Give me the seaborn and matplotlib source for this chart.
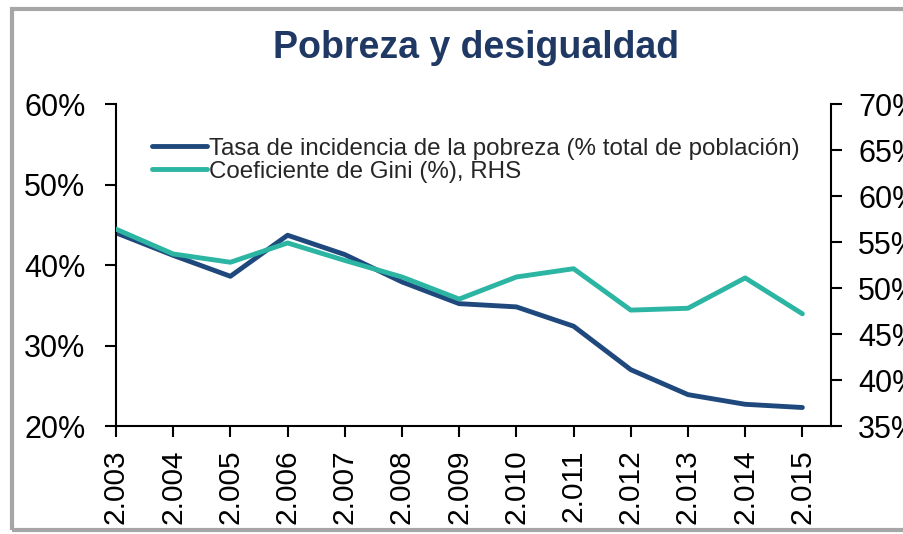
import pandas as pd
import seaborn as sb
import matplotlib.pyplot as plt
from matplotlib.patches import Rectangle
from matplotlib.ticker import FuncFormatter

years = ['2.003', '2.004', '2.005', '2.006', '2.007', '2.008', '2.009',
         '2.010', '2.011', '2.012', '2.013', '2.014', '2.015']
pobreza = [44.0, 41.2, 38.6, 43.7, 41.3, 37.9, 35.2, 34.8, 32.4, 27.0, 23.9, 22.7, 22.3]
gini = [56.4, 53.7, 52.8, 54.9, 53.0, 51.2, 48.8, 51.2, 52.1, 47.6, 47.8, 51.1, 47.2]

label_pob = 'Tasa de incidencia de la pobreza (% total de población)'
label_gini = 'Coeficiente de Gini (%), RHS'
col_pob = '#1F497D'
col_gini = '#2BB5A2'

sb.set_style('ticks')
plt.rcParams['font.family'] = ['Liberation Sans', 'DejaVu Sans']

df = pd.DataFrame({'idx': range(len(years)), 'pobreza': pobreza, 'gini': gini})

fig = plt.figure(figsize=(9.04, 5.34), dpi=100)
ax = fig.add_axes([0.1283, 0.2022, 0.7909, 0.6030])
ax2 = ax.twinx()

sb.lineplot(data=df, x='idx', y='pobreza', ax=ax, color=col_pob, linewidth=3.5,
            label=label_pob, legend=False)
sb.lineplot(data=df, x='idx', y='gini', ax=ax2, color=col_gini, linewidth=3.5,
            label=label_gini, legend=False)

ax.set_xlim(0, 12.5)
ax.set_ylim(20, 60)
ax2.set_ylim(35, 70)
ax.set_yticks([20, 30, 40, 50, 60])
ax2.set_yticks([35, 40, 45, 50, 55, 60, 65, 70])
pct = FuncFormatter(lambda v, p: '%d%%' % v)
ax.yaxis.set_major_formatter(pct)
ax2.yaxis.set_major_formatter(pct)
ax.set_xticks(range(len(years)))
ax.set_xticklabels(years, rotation=90)
ax.set_xlabel('')
ax.set_ylabel('')
ax2.set_ylabel('')

for a in (ax, ax2):
    a.tick_params(axis='both', length=8, width=1.5, color='black', labelcolor='black')
    for s in a.spines.values():
        s.set_color('black')
        s.set_linewidth(1.5)
    a.spines['top'].set_visible(False)
ax.tick_params(axis='y', labelsize=22, pad=14)
ax.tick_params(axis='x', labelsize=21.5, pad=9)
ax2.tick_params(axis='y', labelsize=22, pad=11.5)
ax2.spines['left'].set_visible(False)
ax2.spines['bottom'].set_visible(False)
ax.spines['right'].set_visible(False)

handles = ax.get_lines()[:1] + ax2.get_lines()[:1]
leg = ax.legend(handles, [label_pob, label_gini], loc='upper left',
                bbox_to_anchor=(0.05, 0.896), frameon=False, fontsize=17.4,
                handlelength=2.27, handletextpad=0.12, labelspacing=0.05,
                borderaxespad=0, borderpad=0)

fig.text(0.5265, 0.91, 'Pobreza y desigualdad', ha='center', va='center',
         fontsize=27, fontweight='bold', color='#1F3864')

fig.patches.append(Rectangle((0.013, 0.008), 1.0, 0.975, transform=fig.transFigure,
                             fill=False, edgecolor='#A6A6A6', linewidth=3))

fig.savefig('out.png', dpi=100)
